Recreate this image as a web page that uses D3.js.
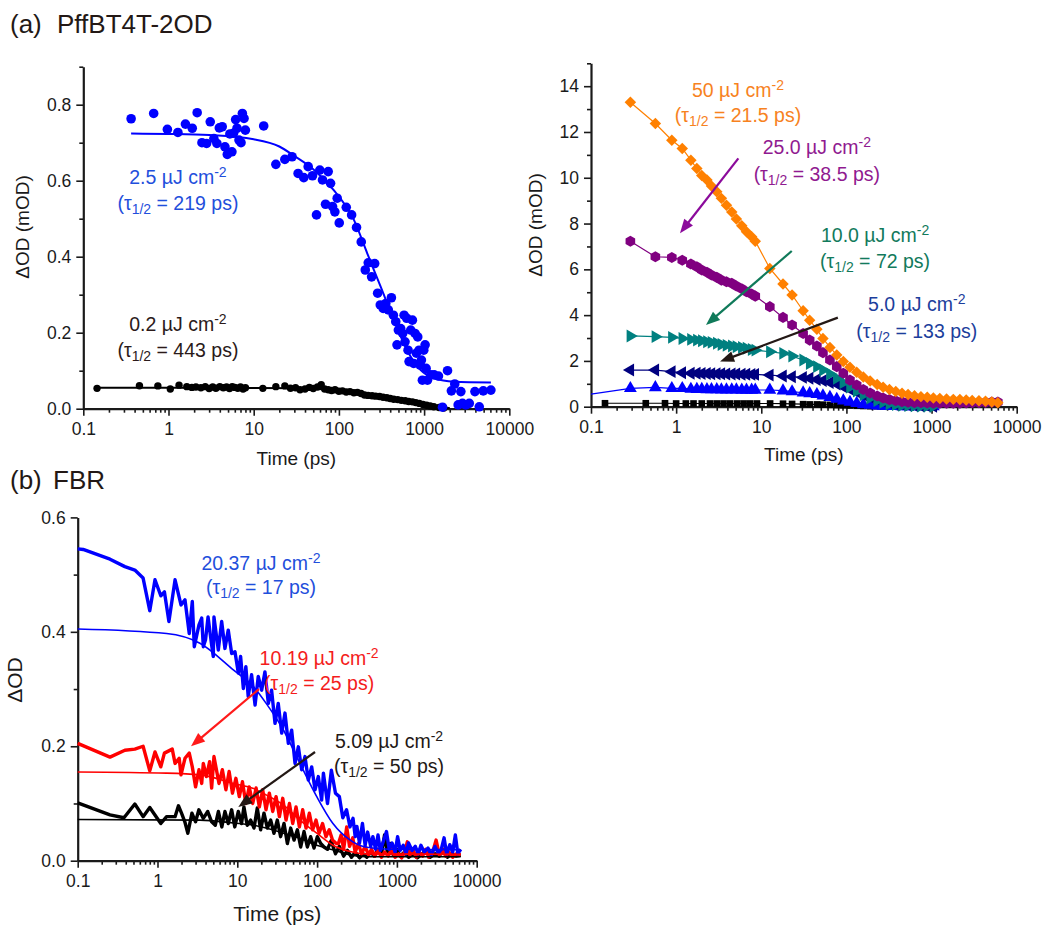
<!DOCTYPE html>
<html>
<head>
<meta charset="utf-8">
<script src="https://cdn.jsdelivr.net/npm/d3@7"></script>
<style>
body { margin: 0; background: #fff; }
svg { font-family: "Liberation Sans", Arial, sans-serif; }
</style>
</head>
<body>
<svg id="fig" width="1045" height="926"></svg>
<script>
// ---------- data (time in ps, signal) ----------

// (a) left: 2.5 uJ points, 0.2 uJ points, and their fits
var lowBlue = [[0.364,0.763],[0.67,0.777],[0.97,0.735],[1.29,0.727],[1.58,0.749],[1.9,0.738],[2.17,0.779],[2.47,0.700],[2.8,0.698],[3.09,0.755],
  [3.41,0.711],[3.7,0.698],[3.95,0.739],[4.27,0.742],[4.6,0.689],[4.9,0.669],[5.25,0.723],[5.55,0.676],[5.8,0.725],[6.14,0.761],
  [6.37,0.738],[6.72,0.707],[7.1,0.700],[7.36,0.777],[7.7,0.764],[7.98,0.733],[13.1,0.744],[18.2,0.643],[23.2,0.656],[28.2,0.663],
  [33.2,0.619],[38.7,0.608],[43.6,0.637],[49,0.613],[54.6,0.510],[59.7,0.628],[64.2,0.602],[69.7,0.538],[74.9,0.624],[79.8,0.593],
  [84.2,0.532],[89.7,0.518],[95.5,0.554],[100.9,0.489],[122,0.530],[141,0.510],[161,0.477],[183,0.439],[204,0.365],[221,0.384],
  [242,0.347],[263,0.382],[285,0.304],[306,0.273],[331,0.264],[355,0.277],[380,0.260],[413,0.292],[436,0.246],[465,0.229],
  [481,0.168],[499,0.207],[531,0.211],[561,0.198],[582,0.246],[597,0.176],[625,0.238],[648,0.154],[666,0.124],[697,0.207],
  [729,0.233],[755,0.119],[783,0.198],[812,0.146],[842,0.189],[873,0.154],[897,0.115],[930,0.128],[955,0.075],[991,0.154],
  [1028,0.168],[1056,0.106],[1095,0.075],[1198,0.089],[1312,0.089],[1475,0.086],[1644,0.004],[1883,0.100],[2090,0.047],[2290,0.065],
  [2510,0.010],[2700,0.045],[2820,0.014],[3090,0.010],[3390,0.014],[3950,0.045],[4440,0.005],[4950,0.047],[6080,0.049]];
var lowBlueFit = [[0.364,0.724],[1,0.723],[3,0.720],[10,0.709],[20,0.690],[30,0.665],[50,0.630],[87,0.575],[150,0.497],[215,0.409],
  [309,0.321],[443,0.233],[631,0.154],[912,0.102],[1312,0.080],[2240,0.071],[6080,0.069]];
var lowBlack = [[0.145,0.0535],[0.456,0.0605],[0.75,0.060],[1.05,0.052],[1.33,0.062],[1.64,0.058],[1.88,0.056],[2.1,0.057],[2.4,0.055],[2.7,0.058],
  [3.0,0.053],[3.3,0.057],[3.6,0.054],[4.0,0.058],[4.4,0.055],[4.8,0.057],[5.2,0.053],[5.6,0.058],[6.0,0.056],[6.5,0.054],
  [7.0,0.057],[7.5,0.052],[8.0,0.055],[12.8,0.0535],[18.2,0.058],[23.2,0.060],[27,0.054],[31,0.055],[35,0.050],[40,0.052],
  [45,0.056],[50,0.053],[56,0.057],[62,0.063],[68,0.052],[75,0.050],[82,0.048],[90,0.050],[100,0.046],[110,0.047],
  [122,0.044],[135,0.045],[150,0.042],[165,0.043],[182,0.040],[200,0.036],[220,0.035],[245,0.034],[270,0.033],[300,0.032],
  [330,0.030],[365,0.029],[400,0.027],[440,0.025],[490,0.024],[540,0.022],[600,0.021],[660,0.019],[730,0.018],[800,0.016],
  [880,0.014],[970,0.011],[1070,0.009],[1180,0.007],[1300,0.005],[1500,0.003],[1700,0.002]];
var lowBlackFit = [[0.145,0.055],[1,0.055],[10,0.0545],[30,0.054],[100,0.048],[200,0.038],[400,0.027],[700,0.016],[1000,0.010],[1500,0.004],[2000,0.002]];

// (a) right: fluence series sharing one time grid
var hiTimes = [0.29,0.57,0.89,1.18,1.49,1.75,2.0,2.3,2.6,3.0,3.4,3.9,4.5,5.1,5.9,6.7,7.7,8.5,12.6,18,
  23,31,37,45,53,64,77,92,110,132,158,190,230,270,320,380,450,530,630,750,
  890,1050,1250,1500,1800,2150,2550,3000,3600,4300,5100,6000];
var hi50 = [13.3,12.37,11.64,11.28,10.77,10.4,10.1,9.9,9.64,9.39,9.1,8.8,8.5,8.2,7.9,7.64,7.42,7.23,6.04,5.36,
  4.88,4.19,3.78,3.38,2.98,2.59,2.26,1.97,1.72,1.5,1.3,1.12,0.97,0.85,0.75,0.66,0.59,0.53,0.48,0.44,
  0.41,0.38,0.36,0.34,0.32,0.31,0.29,0.27,0.26,0.24,0.21,0.17];
var hi25 = [7.23,6.55,6.52,6.40,6.23,6.11,5.97,5.87,5.75,5.65,5.53,5.46,5.39,5.27,5.15,5.02,4.92,4.83,4.37,3.90,
  3.57,3.20,2.91,2.65,2.36,2.04,1.75,1.46,1.16,0.95,0.75,0.60,0.47,0.38,0.31,0.26,0.22,0.20,0.18,0.17,
  0.16,0.15,0.15,0.15,0.15,0.15,0.16,0.17,0.18,0.19,0.2,0.2];
var hi10 = [3.09,3.06,3.03,2.98,2.94,2.91,2.88,2.84,2.81,2.77,2.72,2.68,2.65,2.62,2.59,2.55,2.50,2.47,2.40,2.33,
  2.21,2.04,1.89,1.75,1.60,1.43,1.24,1.05,0.86,0.68,0.52,0.38,0.27,0.19,0.13,0.09,0.06,0.05,0.04,0.03,
  0.03,0.02,null,null,null,null,null,null,null,null,null,null];
var hi5 = [1.60,1.60,1.53,1.48,1.46,1.46,1.45,1.45,1.44,1.44,1.44,1.43,1.43,1.43,1.42,1.42,1.41,1.41,1.38,1.34,
  1.31,1.28,1.24,1.19,1.14,1.06,0.99,0.87,0.76,0.64,0.51,0.41,0.30,0.22,0.16,0.11,0.08,0.06,0.04,0.03,
  0.03,0.02,null,null,null,null,null,null,null,null,null,null];
var hi25b = [0.80,0.84,0.80,0.80,0.77,0.76,0.76,0.75,0.75,0.75,0.74,0.74,0.74,0.74,0.73,0.73,0.73,0.73,0.73,0.70,
  0.66,0.61,0.58,0.54,0.48,0.41,0.33,0.26,0.20,0.15,0.10,0.07,0.04,0.03,0.02,0.02,0.01,0.01,0.01,0.01,
  0.01,0.01,null,null,null,null,null,null,null,null,null,null];
var hi25bLead = [0.1,0.55];
var hi02 = [[0.146,0.15],[0.44,0.15],[0.74,0.15],[1.0,0.14],[1.3,0.14],[1.6,0.14],[2.0,0.14],[2.5,0.14],[3.0,0.14],[3.6,0.14],
  [4.3,0.14],[5.2,0.14],[6.2,0.14],[7.4,0.14],[8.9,0.14],[12.7,0.14],[18,0.13],[23,0.12],[31,0.11],[37,0.10],
  [45,0.10],[53,0.09],[64,0.08],[77,0.07],[92,0.06],[110,0.05],[132,0.04],[158,0.03],[190,0.02],[230,0.02],[270,0.01]];

// (b) FBR raw traces and fits
var fbr20 = [[0.1,0.545],[0.117,0.544],[0.254,0.527],[0.39,0.514],[0.52,0.508],[0.66,0.494],[0.80,0.437],[0.93,0.491],[1.1,0.463],[1.22,0.470],
  [1.39,0.418],[1.66,0.491],[1.97,0.447],[2.21,0.456],[2.5,0.397],[2.73,0.453],[2.89,0.374],[3.31,0.412],[3.58,0.424],[3.75,0.374],
  [4.0,0.386],[4.3,0.426],[4.77,0.377],[5.0,0.357],[5.1,0.426],[5.78,0.368],[6.37,0.418],[7.0,0.371],[7.7,0.403],[8.5,0.362],
  [9.35,0.365],[10.3,0.328],[11.0,0.357],[11.9,0.301],[12.8,0.339],[13.7,0.287],[15.1,0.325],[16.7,0.272],[18.3,0.322],[20.2,0.298],
  [22.2,0.330],[24.5,0.275],[26.9,0.298],[29.7,0.240],[32.6,0.275],[36,0.223],[39.6,0.258],[43.6,0.205],[48,0.228],[52.9,0.170],
  [58.2,0.199],[64.1,0.159],[70.5,0.182],[77.6,0.141],[85.5,0.164],[94.2,0.124],[103.5,0.147],[114,0.106],[120,0.153],[135,0.10],
  [151,0.158],[170,0.118],[190,0.112],[210,0.075],[234,0.089],[258,0.059],[282,0.074],[300,0.042],[315,0.06],[340,0.031],
  [370,0.065],[400,0.027],[430,0.05],[470,0.025],[500,0.042],[540,0.02],[580,0.045],[620,0.018],[680,0.035],[740,0.051],
  [800,0.02],[870,0.031],[950,0.015],[1020,0.042],[1100,0.018],[1200,0.027],[1300,0.012],[1400,0.031],[1550,0.018],[1700,0.025],
  [1850,0.012],[2000,0.027],[2200,0.015],[2450,0.022],[2700,0.01],[3000,0.025],[3300,0.013],[3600,0.02],[3900,0.04],[4200,0.012],
  [4600,0.028],[5000,0.015],[5400,0.045],[5800,0.012],[6300,0.02]];
var fbr10 = [[0.1,0.205],[0.254,0.181],[0.39,0.193],[0.52,0.195],[0.66,0.200],[0.80,0.157],[0.93,0.190],[1.1,0.164],[1.22,0.188],[1.53,0.195],
  [1.66,0.170],[1.87,0.179],[1.97,0.150],[2.21,0.179],[2.5,0.188],[2.73,0.164],[3.0,0.129],[3.31,0.159],[3.58,0.135],[3.75,0.170],
  [4.1,0.147],[4.5,0.173],[4.77,0.127],[5.1,0.182],[5.9,0.135],[6.5,0.159],[7.2,0.124],[7.9,0.156],[8.7,0.118],[9.6,0.144],
  [10.6,0.112],[11.6,0.138],[12.8,0.100],[14.1,0.129],[15.6,0.100],[17.2,0.127],[18.9,0.094],[20.8,0.124],[22.9,0.089],[25.2,0.118],
  [27.8,0.086],[30.6,0.112],[33.7,0.077],[37.1,0.109],[40.8,0.071],[45,0.100],[49.5,0.065],[54.5,0.094],[60,0.059],[66,0.089],
  [72.7,0.057],[80,0.083],[88,0.054],[97,0.071],[106,0.048],[117,0.065],[129,0.042],[142,0.054],[156,0.036],[174,0.030],
  [185,0.03],[200,0.045],[215,0.02],[235,0.059],[255,0.025],[280,0.04],[300,0.015],[330,0.03],[360,0.012],[400,0.025],
  [440,0.01],[480,0.02],[530,0.008],[580,0.018],[640,0.006],[700,0.015],[780,0.008],[860,0.02],[950,0.006],[1050,0.012],
  [1150,0.005],[1250,0.015],[1350,0.033],[1450,0.01],[1600,0.018],[1750,0.006],[1900,0.015],[2100,0.008],[2300,0.02],[2500,0.006],
  [2800,0.015],[3100,0.036],[3400,0.01],[3700,0.02],[4100,0.008],[4500,0.015],[5000,0.006],[5500,0.012],[6300,0.01]];
var fbr5 = [[0.1,0.101],[0.254,0.080],[0.38,0.075],[0.52,0.099],[0.66,0.077],[0.80,0.093],[1.1,0.065],[1.3,0.077],[1.66,0.077],[1.83,0.096],
  [2.0,0.083],[2.2,0.068],[2.4,0.048],[2.7,0.083],[3.0,0.068],[3.3,0.089],[3.75,0.074],[4.26,0.086],[4.77,0.068],[5.3,0.062],
  [5.8,0.086],[6.4,0.059],[7.0,0.086],[7.7,0.065],[8.5,0.089],[9.3,0.059],[10.3,0.086],[11.3,0.065],[12.1,0.094],[13.3,0.062],
  [14.7,0.071],[16.2,0.057],[17.8,0.092],[19.6,0.054],[21.6,0.083],[23.8,0.057],[26.2,0.071],[28.8,0.048],[31.7,0.071],[34.9,0.042],
  [38.5,0.065],[42.4,0.030],[46.7,0.057],[51.4,0.036],[56.6,0.054],[62.3,0.024],[68.6,0.051],[75.5,0.024],[83,0.042],[91.5,0.022],
  [100.7,0.042],[111,0.030],[122,0.024],[135,0.02],[150,0.035],[170,0.012],[190,0.025],[215,0.008],[240,0.018],[270,0.006],
  [300,0.015],[340,0.005],[380,0.012],[420,0.006],[470,0.015],[520,0.008],[580,0.02],[640,0.01],[700,0.045],[760,0.015],
  [830,0.03],[900,0.01],[1000,0.02],[1100,0.008],[1250,0.015],[1400,0.006],[1600,0.012],[1800,0.005],[2000,0.01],[2300,0.018],
  [2600,0.006],[3000,0.012],[3400,0.008],[3800,0.02],[4300,0.006],[4900,0.012],[5500,0.008],[6300,0.01]];
var fbr20Fit = [[0.1,0.405],[1.3,0.397],[3.4,0.380],[9,0.333],[16,0.304],[23,0.275],[38,0.228],[61,0.170],[99,0.112],[158,0.065],[260,0.036],[400,0.024],[800,0.020],[6300,0.019]];
var fbr10Fit = [[0.1,0.155],[1.3,0.153],[3.4,0.150],[9,0.135],[16,0.126],[23,0.115],[38,0.097],[61,0.071],[99,0.048],[158,0.027],[260,0.016],[400,0.012],[6300,0.011]];
var fbr5Fit = [[0.1,0.072],[3.4,0.071],[9,0.066],[16,0.062],[23,0.057],[38,0.048],[61,0.039],[99,0.027],[158,0.019],[260,0.010],[400,0.007],[6300,0.007]];

var xTicks = [0.1, 1, 10, 100, 1000, 10000];

// ---------- drawing ----------
var svg = d3.select("#fig");
var ink = "#1a1a1a";

function xMinorTicks() {
  var m = [];
  [0.1, 1, 10, 100, 1000].forEach(function(d) {
    for (var k = 2; k <= 9; k++) m.push(+(d * k).toPrecision(3));
  });
  return m;
}

function makePanel(o) {
  var x = d3.scaleLog().domain([0.1, 10000]).range([o.left, o.right]);
  var y = d3.scaleLinear().domain(o.yDom).range([o.bottom, o.top]);
  var g = svg.append("g");

  // minor ticks first
  g.append("g").attr("transform", "translate(0," + o.bottom + ")")
    .call(d3.axisBottom(x).tickValues(xMinorTicks()).tickSize(4).tickFormat(""))
    .call(function(s) { s.select(".domain").remove(); });
  g.append("g").attr("transform", "translate(" + o.left + ",0)")
    .call(d3.axisLeft(y).tickValues(o.yMinor).tickSize(4).tickFormat(""))
    .call(function(s) { s.select(".domain").remove(); });

  g.append("g").attr("class", "xax").attr("transform", "translate(0," + o.bottom + ")")
    .call(d3.axisBottom(x).tickValues(xTicks).tickSize(7).tickSizeOuter(0).tickPadding(7)
      .tickFormat(function(d) { return String(d); }));
  g.append("g").attr("class", "yax").attr("transform", "translate(" + o.left + ",0)")
    .call(d3.axisLeft(y).tickValues(o.yMajor).tickSize(7).tickSizeOuter(0).tickPadding(5)
      .tickFormat(o.yFmt));

  g.selectAll(".domain").attr("stroke", ink).attr("stroke-width", 2.2);
  g.selectAll(".tick line").attr("stroke", ink).attr("stroke-width", 1.6);
  g.selectAll(".tick text").attr("fill", ink).attr("font-size", 17.5)
    .attr("font-family", "'Liberation Sans', Arial, sans-serif");

  g.append("text").attr("x", (o.left + o.right) / 2).attr("y", o.xTitleY)
    .attr("text-anchor", "middle").attr("font-size", o.titleSize).attr("fill", ink).text("Time (ps)");
  g.append("text").attr("transform", "translate(" + o.yTitleX + "," + o.yTitleY + ") rotate(-90)")
    .attr("dy", "0.35em").attr("text-anchor", "middle").attr("font-size", o.titleSize).attr("fill", ink).text(o.yTitle);

  var plot = g.append("g");
  return { x: x, y: y, g: plot };
}

var hexagon = {
  draw: function(ctx, size) {
    var r = Math.sqrt(size * 2 / (3 * Math.sqrt(3)));
    for (var i = 0; i < 6; i++) {
      var a = Math.PI / 3 * i - Math.PI / 2;
      if (i === 0) ctx.moveTo(r * Math.cos(a), r * Math.sin(a));
      else ctx.lineTo(r * Math.cos(a), r * Math.sin(a));
    }
    ctx.closePath();
  }
};

function lineOf(p, curve) {
  return d3.line().x(function(d) { return p.x(d[0]); }).y(function(d) { return p.y(d[1]); })
    .curve(curve || d3.curveLinear);
}

function markers(p, pts, color, sym, size, rot) {
  var path = d3.symbol().type(sym).size(size)();
  p.g.append("g").selectAll("path").data(pts).enter().append("path")
    .attr("d", path).attr("fill", color)
    .attr("transform", function(d) {
      return "translate(" + p.x(d[0]) + "," + p.y(d[1]) + ")" + (rot ? " rotate(" + rot + ")" : "");
    });
}

function pairs(times, vals) {
  var out = [];
  times.forEach(function(t, i) { if (vals[i] != null) out.push([t, vals[i]]); });
  return out;
}

function doseLabel(p, t, v, dose, color) {
  var tx = p.g.append("text").attr("x", p.x(t)).attr("y", p.y(v))
    .attr("text-anchor", "middle").attr("font-size", 19.5).attr("fill", color);
  tx.append("tspan").text(dose + " \u00b5J cm");
  tx.append("tspan").attr("dy", -7).attr("font-size", 14).text("-2");
}
function tauLabel(p, t, v, tau, color) {
  var tx = p.g.append("text").attr("x", p.x(t)).attr("y", p.y(v))
    .attr("text-anchor", "middle").attr("font-size", 19.5).attr("fill", color);
  tx.append("tspan").text("(\u03c4");
  tx.append("tspan").attr("dy", 4).attr("font-size", 14).text("1/2");
  tx.append("tspan").attr("dy", -4).text(" = " + tau + " ps)");
}
function arrow(p, from, to, color) {
  var x1 = p.x(from[0]), y1 = p.y(from[1]), x2 = p.x(to[0]), y2 = p.y(to[1]);
  var ang = Math.atan2(y2 - y1, x2 - x1), L = 14, W = 5.5;
  var bx = x2 - L * Math.cos(ang), by = y2 - L * Math.sin(ang);
  p.g.append("line").attr("x1", x1).attr("y1", y1).attr("x2", bx + 2 * Math.cos(ang)).attr("y2", by + 2 * Math.sin(ang))
    .attr("stroke", color).attr("stroke-width", 2.2);
  var px = -Math.sin(ang) * W, py = Math.cos(ang) * W;
  p.g.append("path").attr("fill", color)
    .attr("d", "M" + x2 + "," + y2 + "L" + (bx + px) + "," + (by + py) + "L" + (bx - px) + "," + (by - py) + "Z");
}

// titles
svg.append("text").attr("x", 10).attr("y", 33).attr("font-size", 26).attr("fill", "#231815")
  .text("(a)").append("tspan").attr("x", 57).text("PffBT4T-2OD");
svg.append("text").attr("x", 10).attr("y", 489).attr("font-size", 26).attr("fill", "#231815")
  .text("(b)").append("tspan").attr("x", 53).text("FBR");

// ---- panel (a) left ----
var pa = makePanel({ left: 83.3, right: 509.3, top: 66.7, bottom: 408.7, yDom: [0, 0.9],
  yMajor: [0, 0.2, 0.4, 0.6, 0.8], yMinor: [0.1, 0.3, 0.5, 0.7, 0.9], yFmt: d3.format(".1f"),
  xTitleY: 465, yTitleX: 22, yTitleY: 227, yTitle: "\u0394OD (mOD)", titleSize: 19 });

pa.g.append("path").attr("d", lineOf(pa, d3.curveMonotoneX)(lowBlackFit)).attr("fill", "none").attr("stroke", "#000").attr("stroke-width", 2);
pa.g.append("g").selectAll("circle").data(lowBlack).enter().append("circle")
  .attr("cx", function(d) { return pa.x(d[0]); }).attr("cy", function(d) { return pa.y(d[1]); })
  .attr("r", 3.7).attr("fill", "#000");
pa.g.append("g").selectAll("circle").data(lowBlue).enter().append("circle")
  .attr("cx", function(d) { return pa.x(d[0]); }).attr("cy", function(d) { return pa.y(d[1]); })
  .attr("r", 4.8).attr("fill", "#0000ff");
pa.g.append("path").attr("d", lineOf(pa, d3.curveMonotoneX)(lowBlueFit)).attr("fill", "none").attr("stroke", "#0000ff").attr("stroke-width", 2);

doseLabel(pa, 1.29, 0.591, "2.5", "#1f4fdc");
tauLabel(pa, 1.29, 0.522, "219", "#1f4fdc");
doseLabel(pa, 1.29, 0.204, "0.2", "#2b1a1a");
tauLabel(pa, 1.29, 0.136, "443", "#2b1a1a");

// ---- panel (a) right ----
var pr = makePanel({ left: 591, right: 1016.7, top: 63.3, bottom: 406.7, yDom: [0, 15],
  yMajor: [0, 2, 4, 6, 8, 10, 12, 14], yMinor: [1, 3, 5, 7, 9, 11, 13, 15], yFmt: d3.format("d"),
  xTitleY: 461, yTitleX: 535, yTitleY: 225, yTitle: "\u0394OD (mOD)", titleSize: 19 });

var hiSeries = [
  { pts: hi02, color: "#000000", sym: d3.symbolSquare, size: 44, rot: 0 },
  { pts: [hi25bLead].concat(pairs(hiTimes, hi25b)), color: "#0000ff", sym: d3.symbolTriangle, size: 72, rot: 0, lead: true },
  { pts: pairs(hiTimes, hi5), color: "#000080", sym: d3.symbolTriangle, size: 72, rot: -90 },
  { pts: pairs(hiTimes, hi10), color: "#008080", sym: d3.symbolTriangle, size: 72, rot: 90 },
  { pts: pairs(hiTimes, hi25), color: "#800080", sym: hexagon, size: 80, rot: 0 },
  { pts: pairs(hiTimes, hi50), color: "#ff8000", sym: d3.symbolSquare, size: 66, rot: 45 }
];
hiSeries.forEach(function(s) {
  pr.g.append("path").attr("d", lineOf(pr)(s.pts)).attr("fill", "none").attr("stroke", s.color).attr("stroke-width", 1.2);
  markers(pr, s.lead ? s.pts.slice(1) : s.pts, s.color, s.sym, s.size, s.rot);
});

arrow(pr, [5.38, 10.85], [1.11, 7.58], "#8b0a9b");
arrow(pr, [22.8, 6.80], [2.24, 3.57], "#107a5a");
arrow(pr, [79.3, 3.89], [3.28, 1.97], "#231815");

doseLabel(pr, 5.33, 13.53, "50", "#f7821e");
tauLabel(pr, 5.33, 12.44, "21.5", "#f7821e");
doseLabel(pr, 44.9, 11.04, "25.0", "#901a90");
tauLabel(pr, 44.9, 9.86, "38.5", "#901a90");
doseLabel(pr, 217, 7.20, "10.0", "#127a5c");
tauLabel(pr, 217, 6.06, "72", "#127a5c");
doseLabel(pr, 671, 4.18, "5.0", "#1c3e9c");
tauLabel(pr, 671, 3.0, "133", "#1c3e9c");

// ---- panel (b) ----
var pb = makePanel({ left: 77.7, right: 476.7, top: 517.4, bottom: 860.7, yDom: [0, 0.6],
  yMajor: [0, 0.2, 0.4, 0.6], yMinor: [0.1, 0.3, 0.5], yFmt: d3.format(".1f"),
  xTitleY: 921, yTitleX: 15, yTitleY: 680, yTitle: "\u0394OD", titleSize: 21 });

var byT = function(a, b) { return a[0] - b[0]; };
[[fbr5, "#000000"], [fbr10, "#ff0000"], [fbr20, "#0000ff"]].forEach(function(s) {
  pb.g.append("path").attr("d", lineOf(pb)(s[0].slice().sort(byT))).attr("fill", "none")
    .attr("stroke", s[1]).attr("stroke-width", 3.4).attr("stroke-linejoin", "round");
});
[[fbr5Fit, "#000000"], [fbr20Fit, "#0000ff"], [fbr10Fit, "#ff0000"]].forEach(function(s) {
  pb.g.append("path").attr("d", lineOf(pb, d3.curveMonotoneX)(s[0])).attr("fill", "none")
    .attr("stroke", s[1]).attr("stroke-width", 1.6);
});

arrow(pb, [18.7, 0.300], [2.63, 0.200], "#ff1a1a");
arrow(pb, [94.2, 0.190], [10.3, 0.094], "#231815");

doseLabel(pb, 19.8, 0.508, "20.37", "#1f4fdc");
tauLabel(pb, 19.8, 0.466, "17", "#1f4fdc");
doseLabel(pb, 106, 0.342, "10.19", "#f41c1c");
tauLabel(pb, 106, 0.298, "25", "#f41c1c");
doseLabel(pb, 796, 0.197, "5.09", "#231815");
tauLabel(pb, 796, 0.153, "50", "#231815");
</script>
</body>
</html>
